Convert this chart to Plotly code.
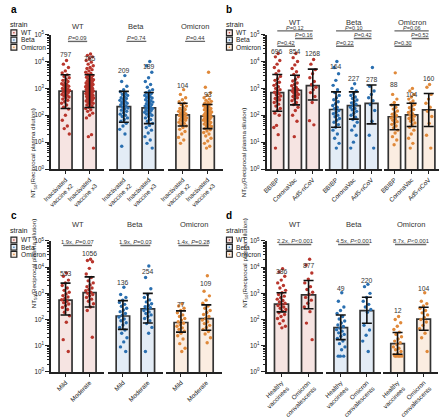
import math
import plotly.graph_objects as go

W, H = 440, 418
FONT = "Liberation Sans, Arial, sans-serif"

STRAINS = ["WT", "Beta", "Omicron"]
POINT_COLORS = {"WT": "#b8352c", "Beta": "#2a6fb0", "Omicron": "#e0893a"}
FILL_COLORS = {"WT": "#f6e4e2", "Beta": "#e3ecf6", "Omicron": "#fbede1"}
DETECTION_LIMIT = 4

# ---------------- panel a ----------------
A_CATS = ["Inactivated<br>vaccine x2", "Inactivated<br>vaccine x3"]
A_GMT = {"WT": [797, 785], "Beta": [209, 189], "Omicron": [104, 93]}
A_LO = {"WT": [178, 195], "Beta": [55, 49], "Omicron": [40, 32]}
A_HI = {"WT": [3236, 3236], "Beta": [776, 708], "Omicron": [282, 251]}
A_WT_X2 = [11000, 8000, 6000, 4500, 3800, 3200, 2800, 2500, 2200, 2000, 1800, 1600, 1500, 1400,
           1300, 1200, 1100, 1000, 950, 900, 850, 800, 750, 700, 650, 600, 560, 520, 480, 440,
           400, 360, 320, 280, 240, 200, 170, 100, 65, 40, 32, 20]
A_WT_X3 = [19000, 17000, 15000, 13000, 11000, 9500, 8000, 7000, 6000, 5500, 5000, 4500, 4000,
           3600, 3300, 3000, 2800, 2600, 2400, 2200, 2100, 2000, 1900, 1800, 1700, 1600, 1500,
           1450, 1400, 1350, 1300, 1250, 1200, 1150, 1100, 1050, 1000, 960, 920, 880, 840, 800,
           770, 740, 710, 680, 650, 620, 590, 560, 530, 500, 480, 460, 440, 420, 400, 380, 360,
           340, 320, 300, 280, 260, 240, 220, 200, 180, 160, 140, 120, 100, 80, 19, 16, 6]
A_BETA_X2 = [3000, 1800, 1200, 900, 750, 650, 600, 550, 500, 450, 420, 390, 360, 330, 300, 280,
             260, 240, 220, 200, 185, 170, 155, 140, 125, 110, 100, 90, 80, 70, 60, 50, 40, 30,
             20, 7]
A_BETA_X3 = [10000, 7000, 4000, 2500, 1800, 1400, 1100, 900, 800, 700, 650, 600, 550, 500, 470,
             440, 410, 380, 350, 330, 310, 290, 270, 250, 235, 220, 205, 190, 180, 170, 160, 150,
             140, 130, 120, 110, 100, 90, 80, 70, 60, 50, 42, 35, 28, 22, 16, 12, 9, 6]
A_OMI_X2 = [900, 600, 450, 380, 320, 280, 250, 220, 200, 180, 165, 150, 140, 130, 120, 112, 105,
            98, 92, 86, 80, 75, 70, 65, 60, 55, 50, 45, 40, 35, 30, 25, 20, 15, 12, 9]
A_OMI_X3 = [4000, 1100, 700, 550, 450, 400, 360, 330, 300, 280, 260, 240, 225, 210, 195, 180,
            170, 160, 150, 140, 132, 125, 118, 112, 106, 100, 95, 90, 86, 82, 78, 74, 70, 66, 62,
            58, 54, 50, 47, 44, 41, 38, 35, 32, 29, 26, 23, 20, 17, 14, 11, 9, 7, 6]
A_PTS = {"WT": [A_WT_X2, A_WT_X3], "Beta": [A_BETA_X2, A_BETA_X3], "Omicron": [A_OMI_X2, A_OMI_X3]}
A_P = {"WT": [(0, 1, "<i>P</i>=0.09")], "Beta": [(0, 1, "<i>P</i>=0.74")],
       "Omicron": [(0, 1, "<i>P</i>=0.44")]}

# ---------------- panel b ----------------
B_CATS = ["BBIBP", "CoronaVac", "Ad5-nCoV"]
B_GMT = {"WT": [696, 854, 1268], "Beta": [164, 227, 278], "Omicron": [88, 104, 160]}
B_LO = {"WT": [141, 245, 372], "Beta": [36, 72, 48], "Omicron": [29, 38, 38]}
B_HI = {"WT": [3311, 3090, 5248], "Beta": [741, 741, 1349], "Omicron": [245, 282, 646]}
B_WT_BB = [20000, 15000, 11000, 8000, 6000, 4500, 3500, 2800, 2300, 2000, 1700, 1500, 1300, 1150,
           1000, 900, 800, 720, 650, 580, 520, 470, 420, 380, 340, 300, 260, 220, 180, 150, 120,
           100, 42, 35, 19, 6]
B_WT_CV = [20000, 14000, 10000, 7500, 5500, 4200, 3300, 2700, 2200, 1900, 1600, 1400, 1250, 1100,
           1000, 920, 850, 780, 720, 660, 600, 550, 500, 450, 400, 350, 300, 250, 200, 150, 100,
           60, 16]
B_WT_AD = [12000, 8000, 5000, 3500, 2500, 1800, 1400, 1100, 900, 700, 500, 300, 63, 44]
B_BETA_BB = [10000, 6000, 3500, 2000, 1300, 900, 700, 550, 450, 380, 320, 270, 230, 200, 175,
             150, 130, 115, 100, 88, 76, 65, 55, 45, 36, 28, 20, 14, 9, 6]
B_BETA_CV = [1500, 1000, 800, 650, 550, 480, 420, 370, 330, 290, 260, 230, 200, 180, 160, 140,
             120, 100, 85, 70, 55, 40, 28, 18, 10, 6]
B_BETA_AD = [6000, 1200, 800, 600, 450, 350, 250, 150, 60, 18, 6]
B_OMI_BB = [3800, 600, 400, 300, 240, 200, 170, 145, 125, 110, 98, 88, 80, 72, 65, 58, 52, 46, 40,
            34, 28, 22, 16, 12, 8]
B_OMI_CV = [1000, 800, 600, 480, 400, 340, 290, 250, 220, 190, 165, 145, 128, 115, 103, 93, 84,
            76, 68, 60, 52, 44, 36, 28, 20, 14, 9, 6]
B_OMI_AD = [1400, 1100, 600, 400, 280, 200, 140, 90, 50, 18, 6]
B_PTS = {"WT": [B_WT_BB, B_WT_CV, B_WT_AD], "Beta": [B_BETA_BB, B_BETA_CV, B_BETA_AD],
         "Omicron": [B_OMI_BB, B_OMI_CV, B_OMI_AD]}
B_P = {"WT": [(0, 2, "<i>P</i>=0.12"), (1, 2, "<i>P</i>=0.16"), (0, 1, "<i>P</i>=0.42")],
       "Beta": [(0, 2, "<i>P</i>=0.10"), (1, 2, "<i>P</i>=0.42"), (0, 1, "<i>P</i>=0.22")],
       "Omicron": [(0, 2, "<i>P</i>=0.06"), (1, 2, "<i>P</i>=0.52"), (0, 1, "<i>P</i>=0.30")]}

# ---------------- panel c ----------------
C_CATS = ["Mild", "Moderate"]
C_GMT = {"WT": [553, 1056], "Beta": [136, 254], "Omicron": [77, 109]}
C_LO = {"WT": [148, 302], "Beta": [42, 74], "Omicron": [33, 39]}
C_HI = {"WT": [2455, 4266], "Beta": [525, 993], "Omicron": [214, 363]}
C_WT_MI = [6000, 4500, 3200, 2500, 2000, 1600, 1300, 1100, 950, 820, 720, 640, 570, 500, 440,
           390, 340, 290, 240, 190, 140, 79, 17, 6]
C_WT_MO = [20000, 18000, 16000, 9000, 5500, 4000, 3000, 2500, 2100, 1800, 1600, 1400, 1250, 1100,
           1000, 900, 800, 700, 600, 500, 400, 300, 220, 21]
C_BETA_MI = [1700, 900, 700, 550, 450, 380, 320, 270, 230, 200, 170, 145, 125, 105, 90, 75, 62,
             50, 40, 30, 20, 14, 9, 6]
C_BETA_MO = [11000, 4000, 1500, 900, 700, 560, 470, 400, 350, 310, 280, 250, 220, 195, 170, 150,
             130, 110, 90, 70, 50, 30, 6]
C_OMI_MI = [400, 330, 270, 220, 180, 150, 130, 110, 95, 82, 72, 63, 55, 48, 42, 36, 30, 24, 18,
            12, 8, 6]
C_OMI_MO = [4700, 1200, 800, 550, 420, 330, 270, 220, 185, 155, 130, 110, 95, 82, 70, 60, 50, 42,
            35, 28, 20, 13]
C_PTS = {"WT": [C_WT_MI, C_WT_MO], "Beta": [C_BETA_MI, C_BETA_MO], "Omicron": [C_OMI_MI, C_OMI_MO]}
C_P = {"WT": [(0, 1, "1.9x, <i>P</i>=0.07")], "Beta": [(0, 1, "1.9x, <i>P</i>=0.03")],
       "Omicron": [(0, 1, "1.4x, <i>P</i>=0.28")]}

# ---------------- panel d ----------------
D_CATS = ["Healthy<br>vaccinees", "Omicron<br>convalescents"]
D_GMT = {"WT": [386, 877], "Beta": [49, 220], "Omicron": [12, 104]}
D_LO = {"WT": [195, 257], "Beta": [17, 72], "Omicron": [4.7, 39]}
D_HI = {"WT": [1047, 3090], "Beta": [148, 708], "Omicron": [32, 295]}
D_WT_HV = [8700, 6500, 4500, 3200, 2500, 2000, 1600, 1300, 1050, 900, 780, 680, 600, 530, 470,
           420, 380, 340, 300, 270, 240, 210, 180, 155, 130, 110, 90, 70, 55, 48]
D_WT_OC = [20000, 12000, 6000, 3500, 2500, 1800, 1400, 1100, 900, 700, 550, 420, 300, 200, 73, 17]
D_BETA_HV = [1050, 500, 300, 220, 170, 130, 105, 88, 74, 62, 54, 47, 41, 36, 31, 27, 23, 19, 15,
             12, 9, 7, 4, 4, 4]
D_BETA_OC = [2200, 1800, 1000, 700, 500, 380, 300, 240, 190, 60, 40, 25, 15, 6]
D_OMI_HV = [130, 100, 75, 55, 42, 33, 27, 22, 18, 15, 13, 11, 9, 8, 7, 6, 5, 4.5, 4, 4, 4, 4, 4]
D_OMI_OC = [1050, 500, 400, 330, 270, 220, 180, 150, 120, 100, 80, 60, 45, 30, 20, 6]
D_PTS = {"WT": [D_WT_HV, D_WT_OC], "Beta": [D_BETA_HV, D_BETA_OC], "Omicron": [D_OMI_HV, D_OMI_OC]}
D_P = {"WT": [(0, 1, "2.2x, <i>P</i><0.001")], "Beta": [(0, 1, "4.5x, <i>P</i><0.001")],
       "Omicron": [(0, 1, "8.7x, <i>P</i><0.001")]}

Y_TICKS = [1, 10, 100, 1000, 10000, 100000]
Y_TICK_TEXT = ["10<sup>%d</sup>" % k for k in range(6)]
Y_TITLE = "NT<sub>50</sub>(Reciprocal plasma dilution)"

# ---------------- layout of the panels (positions / styles) ----------------
PANELS = [
    dict(letter="a", data=(A_CATS, A_GMT, A_LO, A_HI, A_PTS, A_P), x_off=0, top=32, bottom=172,
         facets=[(43, 97), (102, 158), (162, 218)], xrange=[-0.6, 1.6], barw=0.54, jit=0.34,
         title_y=18, legend_y=[21, 30, 37.5, 45], letter_y=6, ytitle_y=108,
         label_y={"WT": [4.25, 4.10], "Beta": [3.65, 3.83], "Omicron": [3.12, 2.79]},
         br_pad=-0.1, br_line_y=[39], br_text_dy=3.4, br_font=5.8),
    dict(letter="b", data=(B_CATS, B_GMT, B_LO, B_HI, B_PTS, B_P), x_off=220, top=32, bottom=172,
         facets=[(263, 321), (323, 381), (383, 439)], xrange=[-0.6, 2.6], barw=0.72, jit=0.4,
         title_y=14, legend_y=[21, 30, 37.5, 45], letter_y=6, ytitle_y=108,
         label_y={"WT": [4.38, 4.38, 4.30], "Beta": [3.80, 3.37, 3.35], "Omicron": [3.14, 2.79, 3.37]},
         br_pad=0.0, br_line_y=[28.0, 36.0, 44.0], br_text_dy=3.3, br_font=5.5),
    dict(letter="c", data=(C_CATS, C_GMT, C_LO, C_HI, C_PTS, C_P), x_off=0, top=247, bottom=383.5,
         facets=[(43, 97), (101, 157), (160, 217)], xrange=[-0.6, 1.6], barw=0.54, jit=0.34,
         title_y=230, legend_y=[236, 246, 253.5, 261], letter_y=220, ytitle_y=318,
         label_y={"WT": [3.75, 4.52], "Beta": [3.43, 3.85], "Omicron": [2.57, 3.36]},
         br_pad=0.1, br_line_y=[251.7], br_text_dy=3.4, br_font=5.8),
    dict(letter="d", data=(D_CATS, D_GMT, D_LO, D_HI, D_PTS, D_P), x_off=220, top=247, bottom=383.5,
         facets=[(263, 321), (324, 380), (382, 438)], xrange=[-0.55, 1.55], barw=0.52, jit=0.34,
         title_y=230, legend_y=[236, 246, 253.5, 261], letter_y=220, ytitle_y=318,
         label_y={"WT": [3.82, 4.06], "Beta": [3.20, 3.49], "Omicron": [2.35, 3.20]},
         br_pad=0.1, br_line_y=[250.7], br_text_dy=3.4, br_font=5.8),
]

GOLD = 0.6180339887


def jitter(k, width):
    return (((k + 1) * GOLD) % 1.0 - 0.5) * width


def py(y):
    return 1 - y / H


fig = go.Figure()
layout = dict(width=W, height=H, margin=dict(l=0, r=0, t=0, b=0), autosize=False,
              plot_bgcolor="white", paper_bgcolor="white", showlegend=False,
              font=dict(family=FONT, color="#222"))
shapes, annotations = [], []
minor_vals = [m * 10 ** k for k in range(5) for m in range(2, 10)]

for pi, P in enumerate(PANELS):
    cats, gmt, lo, hi, pts, pv = P["data"]
    xs = list(range(len(cats)))
    for fi, strain in enumerate(STRAINS):
        n = pi * 3 + fi + 1
        xa = "x" if n == 1 else "x%d" % n
        ya = "y" if n == 1 else "y%d" % n
        g = gmt[strain]
        fig.add_trace(go.Bar(x=xs, y=g, width=P["barw"], xaxis=xa, yaxis=ya, hoverinfo="skip",
                             marker=dict(color=FILL_COLORS[strain],
                                         line=dict(color="#333333", width=1.7))))
        for ci in xs:
            vals = pts[strain][ci]
            fig.add_trace(go.Scatter(x=[ci + jitter(k, P["jit"]) for k in range(len(vals))], y=vals,
                                     mode="markers", xaxis=xa, yaxis=ya, hoverinfo="skip",
                                     marker=dict(size=3.4, color=POINT_COLORS[strain], line=dict(width=0))))
        fig.add_trace(go.Scatter(x=xs, y=g, mode="markers", xaxis=xa, yaxis=ya, hoverinfo="skip",
                                 marker=dict(size=1, color="rgba(0,0,0,0)"),
                                 error_y=dict(type="data", symmetric=False,
                                              array=[h - v for h, v in zip(hi[strain], g)],
                                              arrayminus=[v - l for l, v in zip(lo[strain], g)],
                                              color="#111111", thickness=1.6, width=5)))
        x0, x1 = P["facets"][fi]
        xkey = "xaxis" if n == 1 else "xaxis%d" % n
        ykey = "yaxis" if n == 1 else "yaxis%d" % n
        layout[xkey] = dict(domain=[x0 / W, x1 / W], range=P["xrange"], anchor=ya,
                            tickmode="array", tickvals=xs, ticktext=cats, tickangle=-45,
                            ticks="outside", ticklen=3, tickwidth=1, tickcolor="#222",
                            showline=True, linecolor="#222", linewidth=1.7, showgrid=False,
                            zeroline=False, tickfont=dict(size=6.3, color="#222", family=FONT),
                            fixedrange=True)
        yax = dict(domain=[py(P["bottom"]), py(P["top"])], type="log", range=[0, 5], anchor=xa,
                   showgrid=False, zeroline=False, fixedrange=True)
        if fi == 0:
            yax.update(showline=True, linecolor="#222", linewidth=1.7, ticks="outside", ticklen=4,
                       tickwidth=1, tickcolor="#222", tickmode="array", tickvals=Y_TICKS,
                       ticktext=Y_TICK_TEXT, tickfont=dict(size=6.3, color="#222", family=FONT),
                       minor=dict(ticks="outside", ticklen=2, tickwidth=0.8, tickcolor="#222",
                                  tickmode="array", tickvals=minor_vals))
        else:
            yax.update(showline=False, showticklabels=False, ticks="")
        layout[ykey] = yax

        # detection limit
        shapes.append(dict(type="line", xref=xa + " domain", x0=0, x1=1, yref=ya,
                           y0=math.log10(DETECTION_LIMIT), y1=math.log10(DETECTION_LIMIT),
                           line=dict(color="#111", width=1.5, dash="dash")))
        # GMT labels
        for ci in xs:
            annotations.append(dict(x=ci, y=P["label_y"][strain][ci], xref=xa, yref=ya,
                                    text=str(g[ci]), showarrow=False, borderpad=0,
                                    font=dict(size=6.8, color="#333", family=FONT)))
        # facet title
        annotations.append(dict(x=0.5, xref=xa + " domain", y=py(P["title_y"]), yref="paper",
                                text=strain, showarrow=False, borderpad=0,
                                font=dict(size=7.5, color="#333", family=FONT)))
        # P-value brackets
        for bi, (i, j, txt) in enumerate(pv[strain]):
            ly = P["br_line_y"][bi]
            shapes.append(dict(type="line", xref=xa, x0=i - P["br_pad"], x1=j + P["br_pad"],
                               yref="paper", y0=py(ly), y1=py(ly),
                               line=dict(color="#666", width=1.4)))
            annotations.append(dict(x=(i + j) / 2, xref=xa, y=py(ly - P["br_text_dy"]), yref="paper",
                                    text=txt, showarrow=False, yanchor="middle", borderpad=0,
                                    font=dict(size=P["br_font"], color="#333", family=FONT)))

    xo = P["x_off"]
    # panel letter
    annotations.append(dict(x=(xo + 1) / W, y=py(P["letter_y"]), xref="paper", yref="paper",
                            text="<b>%s</b>" % P["letter"], showarrow=False, xanchor="left",
                            yanchor="middle", borderpad=0,
                            font=dict(size=10, color="#000", family=FONT)))
    # y-axis title
    annotations.append(dict(x=(xo + 20) / W, y=py(P["ytitle_y"]), xref="paper", yref="paper",
                            text=Y_TITLE, textangle=-90, showarrow=False, borderpad=0,
                            font=dict(size=6.2, color="#222", family=FONT)))
    # legend
    ly = P["legend_y"]
    annotations.append(dict(x=(xo + 0) / W, y=py(ly[0]), xref="paper", yref="paper", text="strain",
                            showarrow=False, xanchor="left", yanchor="middle", borderpad=0,
                            font=dict(size=7.2, color="#222", family=FONT)))
    for si, strain in enumerate(STRAINS):
        cy = ly[si + 1]
        shapes.append(dict(type="rect", xref="paper", yref="paper", x0=(xo + 2) / W, x1=(xo + 8) / W,
                           y0=py(cy + 3), y1=py(cy - 3), fillcolor=FILL_COLORS[strain],
                           line=dict(color="#222", width=1.2)))
        shapes.append(dict(type="circle", xref="paper", yref="paper", x0=(xo + 4.2) / W,
                           x1=(xo + 5.8) / W, y0=py(cy + 0.8), y1=py(cy - 0.8),
                           fillcolor=POINT_COLORS[strain], line=dict(width=0)))
        annotations.append(dict(x=(xo + 11) / W, y=py(cy), xref="paper", yref="paper", text=strain,
                                showarrow=False, xanchor="left", yanchor="middle", borderpad=0,
                                font=dict(size=6.6, color="#222", family=FONT)))

layout["shapes"] = shapes
layout["annotations"] = annotations
fig.update_layout(**layout)
fig.write_html("out.html", config={"displayModeBar": False},
               post_script="document.body.style.margin='0';document.body.style.overflow='hidden';")
